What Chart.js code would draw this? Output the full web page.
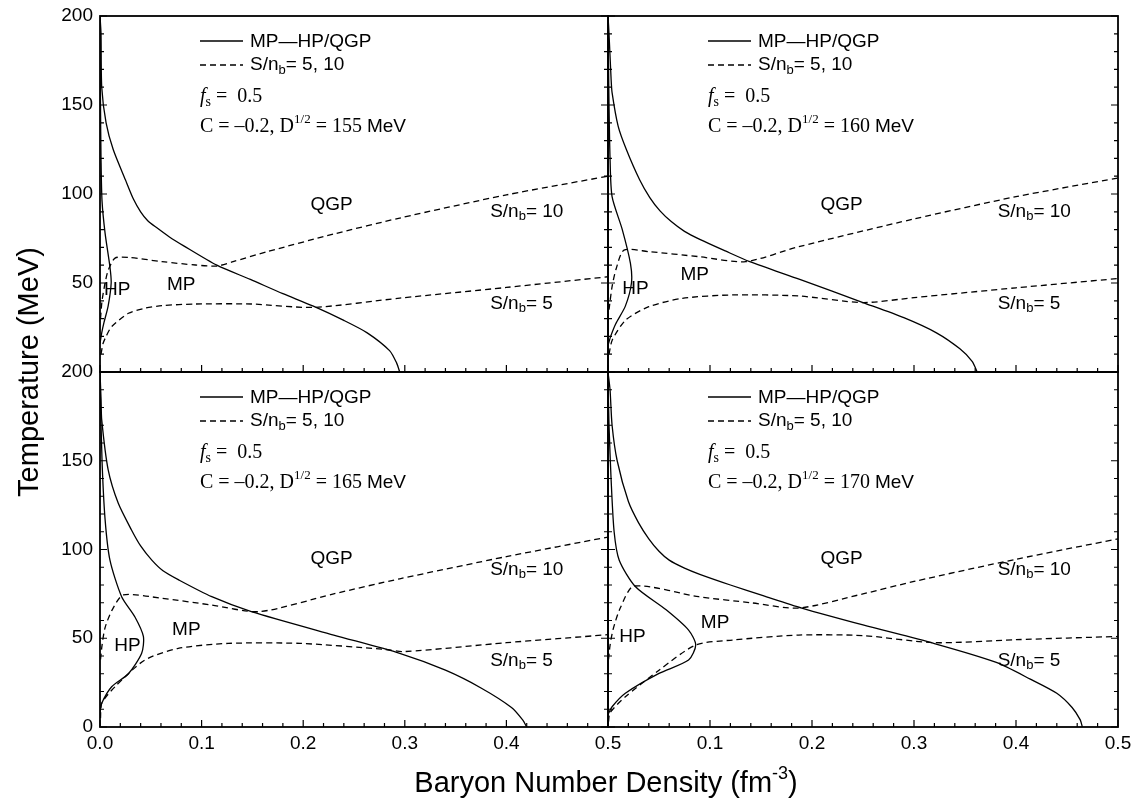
<!DOCTYPE html>
<html>
<head>
<meta charset="utf-8">
<script src="https://cdn.jsdelivr.net/npm/chart.js@4.4.1/dist/chart.umd.min.js"></script>
<style>
  body { margin: 0; background: #fff; }
  #wrap { position: relative; width: 1135px; height: 800px; }
  #wrap canvas { position: absolute; left: 0; top: 0; }
</style>
</head>
<body>
<div id="wrap">
  <canvas id="c0" width="1135" height="800"></canvas>
  <canvas id="c1" width="1135" height="800"></canvas>
  <canvas id="c2" width="1135" height="800"></canvas>
  <canvas id="c3" width="1135" height="800"></canvas>
</div>
<script>
// ---- data (x = baryon density fm^-3, y = temperature MeV) ----
const xTicks = [0, 0.1, 0.2, 0.3, 0.4, 0.5];
const yTicks = [0, 50, 100, 150, 200];
const dValues = ['155', '160', '165', '170'];

// D^1/2 = 155 MeV
const boundary155 = [[0,200],[0.001,190],[0.0017,160],[0.006,140],[0.013,125],[0.025,108],[0.033,97],[0.04,90],[0.047,85],[0.056,81],[0.068,76],[0.082,71],[0.115,60],[0.148,52],[0.18,44],[0.21,37],[0.24,29],[0.263,22],[0.285,12],[0.292,5],[0.295,0]];
const hp155 = [[0,190],[0.0005,150],[0.001,120],[0.002,96],[0.005,78],[0.0098,59],[0.011,50],[0.008,37],[0.004,28],[0.0017,22],[0,16]];
const s10_155 = [[0.0005,30],[0.002,40],[0.005,50],[0.008,57],[0.0148,64],[0.028,64.4],[0.061,62],[0.094,60.1],[0.115,59.5],[0.131,62],[0.164,67.5],[0.23,77.5],[0.295,86.5],[0.4,99.5],[0.5,110]];
const s5_155 = [[0.001,10],[0.003,16],[0.006,20],[0.0115,25.5],[0.028,33],[0.044,35.8],[0.061,37.3],[0.094,38.2],[0.149,38.2],[0.21,36.3],[0.295,41.5],[0.4,47.5],[0.5,53.5]];

// D^1/2 = 160 MeV
const boundary160 = [[0,200],[0.001,190],[0.003,165],[0.004,157],[0.01,138],[0.018,125],[0.031,108],[0.041,98],[0.051,90.5],[0.062,84.5],[0.075,79],[0.09,74.5],[0.115,68],[0.139,62],[0.188,52],[0.25,39],[0.29,30.5],[0.322,22],[0.345,13],[0.357,6],[0.362,0]];
const hp160 = [[0,195],[0.001,150],[0.002,120],[0.004,98.5],[0.014,80],[0.022,61],[0.023,50],[0.017,37],[0.0075,27],[0.0026,20],[0,15]];
const s10_160 = [[0.001,35],[0.004,48],[0.008,58],[0.0157,68.5],[0.04,67.6],[0.089,64.8],[0.135,62],[0.187,70.4],[0.3,86],[0.4,98.5],[0.5,109]];
const s5_160 = [[0.001,10],[0.0042,18],[0.0174,29.2],[0.04,36.7],[0.073,41.4],[0.122,43.3],[0.187,42.7],[0.25,39],[0.3,41.8],[0.4,47.3],[0.5,52.5]];

// D^1/2 = 165 MeV
const boundary165 = [[0,200],[0.001,185],[0.0017,173],[0.008,145],[0.018,126],[0.031,111],[0.04,102],[0.051,94],[0.062,88],[0.077,83],[0.11,73.4],[0.149,65],[0.23,51.8],[0.295,41.5],[0.34,32],[0.375,22],[0.405,11],[0.416,4],[0.42,0]];
const hp165 = [[0,195],[0.002,150],[0.005,117],[0.0098,94],[0.0213,73.4],[0.0344,62],[0.0427,51],[0.041,41.5],[0.028,30],[0.0115,22.7],[0.0017,13.4],[0,8]];
const s10_165 = [[0.0005,38],[0.002,46],[0.005,56],[0.012,66],[0.023,74.4],[0.061,72.5],[0.11,68.7],[0.157,65],[0.23,75],[0.295,83.5],[0.4,96],[0.5,107]];
const s5_165 = [[0.0005,5],[0.0017,13.4],[0.0148,22.7],[0.044,37.7],[0.077,44.3],[0.126,47.1],[0.197,47.1],[0.279,43.8],[0.3,42.5],[0.4,47.5],[0.5,52]];

// D^1/2 = 170 MeV
const boundary170 = [[0,200],[0.002,190],[0.004,170],[0.009,150],[0.02,127],[0.03,115],[0.04,106],[0.05,99],[0.06,94],[0.075,89.5],[0.09,86],[0.12,80],[0.152,74],[0.19,67],[0.25,57.5],[0.32,47],[0.38,36.5],[0.414,27],[0.44,19],[0.455,11],[0.463,4],[0.465,0]];
const hp170 = [[0,195],[0.001,170],[0.003,140],[0.006,110],[0.011,94],[0.027,79],[0.057,66],[0.079,54.6],[0.086,46.2],[0.079,37.7],[0.05,30.2],[0.017,19],[0.004,11.4],[0,7]];
const s10_170 = [[0.0005,38],[0.002,46],[0.005,55],[0.012,67],[0.0255,79.4],[0.089,73.4],[0.14,70],[0.187,67],[0.25,75],[0.3,82],[0.4,94.5],[0.5,106]];
const s5_170 = [[0.0005,3],[0.002,8],[0.017,17],[0.05,32],[0.086,46.2],[0.122,49],[0.187,51.8],[0.25,51.5],[0.32,47.5],[0.4,49.2],[0.5,51]];

// ---- layout ----
const SANS = '"Liberation Sans", Arial, sans-serif';
const SERIF = '"Liberation Serif", "Times New Roman", serif';
const Y_AXIS_W = 60, X_AXIS_H = 40;

const panels = [
  { d: dValues[0], curves: [boundary155, hp155, s10_155, s5_155], box: { l: 100, r: 608, t: 16, b: 372 }, showX: false, showY: true, skipX0: false, skipY0: true },
  { d: dValues[1], curves: [boundary160, hp160, s10_160, s5_160], box: { l: 608, r: 1118, t: 16, b: 372 }, showX: false, showY: false, skipX0: true, skipY0: true },
  { d: dValues[2], curves: [boundary165, hp165, s10_165, s5_165], box: { l: 100, r: 608, t: 372, b: 727 }, showX: true, showY: true, skipX0: false, skipY0: false },
  { d: dValues[3], curves: [boundary170, hp170, s10_170, s5_170], box: { l: 608, r: 1118, t: 372, b: 727 }, showX: true, showY: false, skipX0: true, skipY0: false }
];

// region labels, placed in data coordinates
const regionLabels = [
  [['QGP', 0.228, 94, 'c'], ['MP', 0.08, 49, 'c'], ['HP', 0.017, 46, 'c'], ['S10', 0.384, 90, 'l'], ['S5', 0.384, 38.5, 'l']],
  [['QGP', 0.229, 94, 'c'], ['MP', 0.085, 54.5, 'c'], ['HP', 0.027, 47, 'c'], ['S10', 0.382, 90, 'l'], ['S5', 0.382, 38.5, 'l']],
  [['QGP', 0.228, 94.5, 'c'], ['MP', 0.085, 55, 'c'], ['HP', 0.027, 46, 'c'], ['S10', 0.384, 88.5, 'l'], ['S5', 0.384, 37.5, 'l']],
  [['QGP', 0.229, 94.5, 'c'], ['MP', 0.105, 59, 'c'], ['HP', 0.024, 50.7, 'c'], ['S10', 0.382, 88.5, 'l'], ['S5', 0.382, 37.5, 'l']]
];

function richText(ctx, x, y, parts, measureOnly) {
  let w = 0;
  parts.forEach(p => {
    ctx.font = p.font;
    if (!measureOnly) ctx.fillText(p.t, x + w, y + (p.dy || 0));
    w += ctx.measureText(p.t).width;
  });
  return w;
}

const snbParts = (val) => [
  { t: 'S/n', font: '19px ' + SANS },
  { t: 'b', font: '13px ' + SANS, dy: 5 },
  { t: '= ' + val, font: '19px ' + SANS }
];

const panelDeco = {
  id: 'panelDeco',
  afterDatasetsDraw(chart, args, opts) {
    const ctx = chart.ctx, a = chart.chartArea;
    const xs = chart.scales.x, ys = chart.scales.y;
    ctx.save();
    ctx.strokeStyle = '#000';
    ctx.fillStyle = '#000';

    // inward ticks: major + minor
    ctx.lineWidth = 1.2;
    ctx.setLineDash([]);
    ctx.beginPath();
    for (let i = 0; i <= 25; i++) {
      const px = xs.getPixelForValue(i * 0.02);
      const len = i % 5 === 0 ? 7 : 4;
      ctx.moveTo(px, a.bottom); ctx.lineTo(px, a.bottom - len);
    }
    for (let i = 0; i <= 20; i++) {
      const py = ys.getPixelForValue(i * 10);
      const len = i % 5 === 0 ? 7 : 4;
      ctx.moveTo(a.left, py); ctx.lineTo(a.left + len, py);
      ctx.moveTo(a.right, py); ctx.lineTo(a.right - len, py);
    }
    ctx.stroke();
    ctx.lineWidth = 1.8;
    ctx.strokeRect(a.left, a.top, a.right - a.left, a.bottom - a.top);

    // legend
    const lx = a.left + 100, tx = a.left + 150;
    ctx.lineWidth = 1.3;
    ctx.beginPath(); ctx.moveTo(lx, a.top + 25); ctx.lineTo(lx + 43, a.top + 25); ctx.stroke();
    ctx.setLineDash([6, 4]);
    ctx.beginPath(); ctx.moveTo(lx, a.top + 49); ctx.lineTo(lx + 43, a.top + 49); ctx.stroke();
    ctx.setLineDash([]);
    ctx.textBaseline = 'middle';
    ctx.textAlign = 'left';
    richText(ctx, tx, a.top + 26, [{ t: 'MP\u2014HP/QGP', font: '19px ' + SANS }]);
    richText(ctx, tx, a.top + 49, snbParts('5, 10'));
    richText(ctx, lx, a.top + 81, [
      { t: 'f', font: 'italic 20px ' + SERIF },
      { t: 's', font: '14px ' + SERIF, dy: 5 },
      { t: ' =  0.5', font: '20px ' + SERIF }
    ]);
    richText(ctx, lx, a.top + 111, [
      { t: 'C = \u20130.2, D', font: '20px ' + SERIF },
      { t: '1/2', font: '13px ' + SERIF, dy: -7 },
      { t: ' = ' + opts.d + ' ', font: '20px ' + SERIF },
      { t: 'MeV', font: '19px ' + SANS }
    ]);

    // region labels
    regionLabels[opts.idx].forEach(([name, x, y, align]) => {
      const px = xs.getPixelForValue(x), py = ys.getPixelForValue(y);
      if (name === 'S10' || name === 'S5') {
        richText(ctx, px, py, snbParts(name === 'S10' ? '10' : '5'));
      } else {
        ctx.font = '19px ' + SANS;
        ctx.textAlign = align === 'c' ? 'center' : 'left';
        ctx.fillText(name, px, py);
        ctx.textAlign = 'left';
      }
    });

    // overall axis titles (drawn once)
    if (opts.titles) {
      const xParts = [
        { t: 'Baryon Number Density (fm', font: '29px ' + SANS },
        { t: '-3', font: '18px ' + SANS, dy: -10 },
        { t: ')', font: '29px ' + SANS }
      ];
      const w = richText(ctx, 0, 0, xParts, true);
      richText(ctx, 606 - w / 2, 784, xParts);
      ctx.save();
      ctx.translate(30, 372);
      ctx.rotate(-Math.PI / 2);
      ctx.font = '29px ' + SANS;
      ctx.textAlign = 'center';
      ctx.fillText('Temperature (MeV)', 0, 0);
      ctx.restore();
    }
    ctx.restore();
  }
};

function makeDataset(points, dashed) {
  return {
    data: points.map(p => ({ x: p[0], y: p[1] })),
    showLine: true,
    borderColor: '#000',
    borderWidth: 1.3,
    borderDash: dashed ? [6, 4] : [],
    pointRadius: 0,
    tension: 0.25,
    fill: false
  };
}

function zeroPad(s) {
  s.paddingTop = 0; s.paddingBottom = 0; s.paddingLeft = 0; s.paddingRight = 0;
}

panels.forEach((p, idx) => {
  const b = p.box;
  new Chart(document.getElementById('c' + idx), {
    type: 'scatter',
    data: {
      datasets: [
        makeDataset(p.curves[0], false),
        makeDataset(p.curves[1], false),
        makeDataset(p.curves[2], true),
        makeDataset(p.curves[3], true)
      ]
    },
    options: {
      responsive: false,
      animation: false,
      events: [],
      layout: { padding: { left: b.l - Y_AXIS_W, right: 1135 - b.r, top: b.t, bottom: 800 - b.b - X_AXIS_H } },
      plugins: {
        legend: { display: false },
        tooltip: { enabled: false },
        panelDeco: { idx: idx, d: p.d, titles: idx === 0 }
      },
      scales: {
        x: {
          type: 'linear', min: 0, max: 0.5,
          afterFit: s => { s.height = X_AXIS_H; zeroPad(s); },
          afterBuildTicks: s => { s.ticks = xTicks.map(v => ({ value: v })); },
          grid: { display: false, drawTicks: false },
          border: { display: false },
          ticks: {
            display: p.showX, padding: 5, autoSkip: false, maxRotation: 0, color: '#000',
            font: { family: SANS, size: 19 },
            callback: v => (p.skipX0 && v === 0) ? '' : v.toFixed(1)
          }
        },
        y: {
          type: 'linear', min: 0, max: 200,
          afterFit: s => { s.width = Y_AXIS_W; zeroPad(s); },
          afterBuildTicks: s => { s.ticks = yTicks.map(v => ({ value: v })); },
          grid: { display: false, drawTicks: false },
          border: { display: false },
          ticks: {
            display: p.showY, padding: 7, autoSkip: false, color: '#000',
            font: { family: SANS, size: 19 },
            callback: v => (p.skipY0 && v === 0) ? '' : String(v)
          }
        }
      }
    },
    plugins: [panelDeco]
  });
});
</script>
</body>
</html>
